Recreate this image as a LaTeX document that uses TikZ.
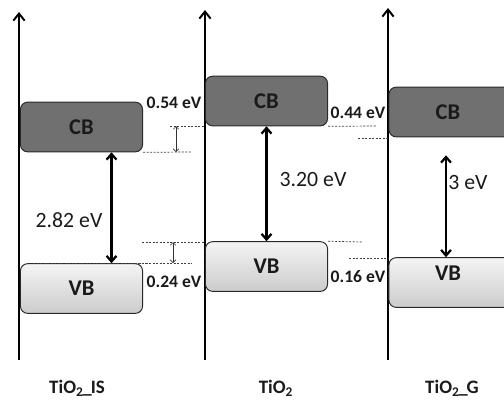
\documentclass[tikz,border=0pt]{standalone}
\usepackage{fontspec}
\setmainfont{Carlito}
\usetikzlibrary{arrows.meta,positioning}
\definecolor{BandDark}{HTML}{707070}
\definecolor{BandEdge}{HTML}{2A2A2A}
\definecolor{BandTop}{HTML}{F4F4F4}
\definecolor{BandBottom}{HTML}{CCCCCC}
\definecolor{BandInk}{HTML}{1A1A1A}
\tikzset{
  bandlabel/.style={font=\bfseries\fontsize{16}{18}\selectfont, text=BandInk},
  offlabel/.style={font=\bfseries\fontsize{12.5}{14}\selectfont, text=BandInk, inner sep=0pt},
  gaplabel/.style={font=\fontsize{15.5}{18}\selectfont, text=BandInk, inner sep=0pt},
  samplelabel/.style={font=\bfseries\fontsize{13.5}{15}\selectfont, text=BandInk},
  bandbox/.style={draw=BandEdge, line width=0.7pt, rounded corners=5pt, minimum width=3.05cm, minimum height=1.24cm, inner sep=0pt},
  cbbox/.style={bandbox, fill=BandDark},
  vbbox/.style={bandbox, top color=BandTop, bottom color=BandBottom},
  axisline/.style={-{Straight Barb[length=5pt,width=8pt]}, line width=1.4pt, draw=black},
  gaparrow/.style={{Straight Barb[length=4pt,width=7pt]}-{Straight Barb[length=4pt,width=7pt]}, line width=1.6pt, draw=black},
  offarrow/.style={{Straight Barb[length=2pt,width=4pt]}-{Straight Barb[length=2pt,width=4pt]}, line width=0.4pt, draw=black!80},
  levelline/.style={dashed, dash pattern=on 1.5pt off 1pt, line width=0.5pt, draw=black!75}
}
\newcommand{\usc}{\kern-0.8pt\_\kern-0.8pt}

\begin{document}
\begin{tikzpicture}[x=0.025cm, y=-0.025cm]
\useasboundingbox (0,0) rectangle (504,410);
\clip (0,0) rectangle (504,410);
% axes
\coordinate (axIS) at (19,360);
\coordinate (axTi) at (205,360);
\coordinate (axG) at (388,360);
\draw[axisline] (axIS) -- (19,12);
\draw[axisline] (axTi) -- (205,10);
\draw[axisline] (axG) -- (388,8);
% bands
\node[cbbox] (cbIS) at (81.5,127) {};
\node[vbbox] (vbIS) at (81.5,288.5) {};
\node[cbbox] (cbTi) at (266.5,101) {};
\node[vbbox] (vbTi) at (266.5,266.5) {};
\node[cbbox] (cbG) at (450,112) {};
\node[vbbox] (vbG) at (450,282.5) {};
\node[bandlabel] (cbISt) at (cbIS) {CB};
\node[bandlabel] (vbISt) at (vbIS) {VB};
\node[bandlabel] (cbTit) at (cbTi) {CB};
\node[bandlabel] (vbTit) at (vbTi) {VB};
\node[bandlabel] (cbGt) at (448,112) {CB};
\node[bandlabel] (vbGt) at (448,273) {VB};
% level lines
\coordinate (lvA) at (192,152);
\coordinate (lvB) at (170,126);
\coordinate (lvC) at (33,263);
\coordinate (lvD) at (192,263);
\coordinate (lvE) at (142,242);
\coordinate (lvF) at (377,126);
\coordinate (lvG) at (358,138);
\coordinate (lvH) at (362,242);
\coordinate (lvI) at (349,258);
\draw[levelline] (cbIS.south east) -- (lvA);
\draw[levelline] (lvB) -- (lvB -| axTi);
\draw[levelline] (lvC) -- (lvD);
\draw[levelline] (lvE) -- (lvE -| axTi);
\draw[levelline] (cbTi.south east) -- (lvF);
\draw[levelline] (lvG) -- (lvG -| axG);
\draw[levelline] (vbTi.north east) -- (lvH);
\draw[levelline] (lvI) -- (lvI -| axG);
% offsets
\draw[offarrow] (176,126) -- (176,152);
\draw[offarrow] (173,242) -- (173,263);
\node[offlabel] (oCbIS) at (174,103) {0.54 eV};
\node[offlabel] (oVbIS) at (174,282) {0.24 eV};
\node[offlabel] (oCbTi) at (358,113) {0.44 eV};
\node[offlabel] (oVbTi) at (358,277) {0.16 eV};
% gaps
\draw[gaparrow] ([xshift=0.75cm]cbIS.south) -- ([xshift=0.75cm]vbIS.north);
\draw[gaparrow] (cbTi.south) -- (vbTi.north);
\draw[gaparrow] ([xshift=-0.1cm,yshift=-0.45cm]cbG.south) -- ([xshift=-0.1cm]vbG.north);
\node[gaplabel] (gIS) at (69,220) {2.82 eV};
\node[gaplabel] (gTi) at (313,180) {3.20 eV};
\node[gaplabel] (gG) at (468,182) {3 eV};
% samples
\node[samplelabel] (sIS) at (77,388) {TiO\textsubscript{2}\usc IS};
\node[samplelabel] (sTi) at (276,388) {TiO\textsubscript{2}};
\node[samplelabel] (sG) at (452,388) {TiO\textsubscript{2}\usc G};
\end{tikzpicture}
\end{document}
